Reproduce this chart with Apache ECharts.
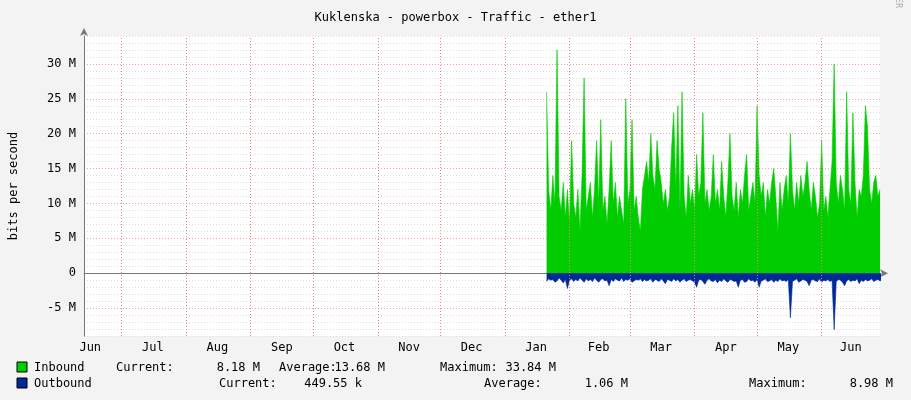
<!DOCTYPE html>
<html><head><meta charset="utf-8">
<script src="https://cdn.jsdelivr.net/npm/echarts@6/dist/echarts.min.js"></script>
<style>html,body{margin:0;padding:0;background:#f3f3f3}#c{width:911px;height:400px}</style>
</head><body><div id="c"></div>
<script>
const startDate = '2024-01-21';
const inbound = [26,12,9,14,10,32,11,9,13,8,12,7,19,10,8,12,6,14,28,9,11,13,8,12,19,10,22,9,11,7,12,19,10,13,8,11,9,7,25,10,12,22,9,11,8,6,12,14,16,13,20,14,12,19,15,13,10,12,9,11,18,23,12,24,9,26,11,8,14,10,12,9,17,11,13,23,10,12,9,11,17,10,12,9,16,11,8,13,20,11,9,13,8,12,10,14,17,9,11,13,10,24,14,11,13,8,12,10,13,15,11,6,13,9,12,14,10,20,12,9,13,10,14,11,13,16,12,9,13,11,8,10,19,9,11,8,12,16,30,13,10,14,12,9,26,12,10,23,13,8,12,11,14,24,21,12,10,13,14,11,12];
const outbound = [1.2,0.8,1.0,0.9,1.3,1.1,0.7,1.0,1.4,0.9,2.2,1.0,0.8,1.2,0.9,1.1,0.7,1.0,1.3,0.8,1.1,0.9,1.2,0.7,1.0,1.3,0.9,0.8,1.1,1.0,1.8,0.9,1.2,0.8,1.0,1.1,0.7,1.2,0.9,1.0,0.8,1.3,1.1,0.9,1.0,0.8,1.2,0.9,1.1,1.0,0.8,1.3,0.9,1.0,1.2,0.8,1.1,1.5,0.9,1.0,1.2,0.8,1.1,0.9,1.3,1.0,0.8,1.2,1.0,0.9,1.1,1.3,2.0,1.0,0.9,1.2,1.6,1.0,0.8,1.1,1.2,0.9,1.4,1.0,1.2,0.8,1.1,1.3,0.9,1.0,1.2,1.1,2.0,1.0,0.9,1.3,1.2,0.8,1.1,1.0,1.3,0.9,2.0,1.1,1.0,0.8,1.2,1.1,0.9,1.3,1.0,1.2,0.8,1.1,1.0,1.2,0.9,6.4,1.2,1.0,0.8,1.3,1.1,0.9,1.0,1.2,1.8,1.0,0.9,1.1,1.2,0.8,1.3,1.0,1.1,0.9,1.2,1.0,8.1,1.2,0.9,1.0,1.3,1.8,1.1,0.9,1.2,1.0,1.1,0.8,1.5,1.0,1.2,0.9,1.1,1.0,0.8,1.2,1.0,0.9,1.1,1.0];
const monthStarts = ['2023-07-01','2023-08-01','2023-09-01','2023-10-01','2023-11-01','2023-12-01','2024-01-01','2024-02-01','2024-03-01','2024-04-01','2024-05-01','2024-06-01'];
const monthLabelDates = ['2023-06-16','2023-07-16','2023-08-16','2023-09-16','2023-10-16','2023-11-16','2023-12-16','2024-01-16','2024-02-15','2024-03-16','2024-04-16','2024-05-16','2024-06-15'];
const monthNames = ['Jun','Jul','Aug','Sep','Oct','Nov','Dec','Jan','Feb','Mar','Apr','May','Jun'];

const ts = d=>new Date(d+'T00:00:00Z').getTime();
const t0 = ts(startDate);
const day = 86400000;
const inData = inbound.map((v,i)=>[t0+i*day, v*1e6]);
const outData = outbound.map((v,i)=>[t0+i*day, -v*1e6]);
const labelTimes = monthLabelDates.map(ts);
const font = 'DejaVu Sans Mono';
const txt = (x,y,s,align)=>({type:'text',x:x,y:y,style:{text:s,font:'12px "DejaVu Sans Mono"',fill:'#000',textAlign:align||'left',textVerticalAlign:'middle'}});

const chart = echarts.init(document.getElementById('c'));
chart.setOption({
  backgroundColor:'#f3f3f3',
  animation:false,
  title:{text:'Kuklenska - powerbox - Traffic - ether1',left:'center',top:7,textStyle:{fontFamily:font,fontSize:12,fontWeight:'normal',color:'#000'}},
  grid:{left:81,right:31,top:36,bottom:64,show:true,backgroundColor:'#fff',borderWidth:0},
  xAxis:{type:'value',min:ts('2023-06-13'),max:ts('2024-06-29'),
    axisLine:{lineStyle:{color:'#777'},symbol:['none','arrow'],symbolSize:[6,8],symbolOffset:[0,8]},
    axisTick:{show:false},splitLine:{show:false},
    axisLabel:{customValues:labelTimes,fontFamily:font,fontSize:12,color:'#000',margin:6,
      formatter:(v)=>{const i=labelTimes.indexOf(v);return i>=0?monthNames[i]:'';}}},
  yAxis:{type:'value',min:-9e6,max:34e6,interval:1e6,
    name:'bits per second',nameLocation:'middle',nameGap:64,nameTextStyle:{fontFamily:font,fontSize:12,color:'#000'},
    axisLine:{show:true,lineStyle:{color:'#777'},symbol:['none','arrow'],symbolSize:[6,8],symbolOffset:[0,8]},
    axisTick:{show:false},
    axisLabel:{fontFamily:font,fontSize:12,color:'#000',margin:8,
      formatter:v=>{if(Math.round(v)%5e6!==0||v>33e6)return '';return v===0?'0':(v/1e6)+' M';}},
    splitLine:{show:true,lineStyle:{type:[1,2],color:['#ddd','#ddd','#ddd','#ddd','#f0a0a0'],width:1}}},
  series:[
    {type:'line',data:inData,showSymbol:false,lineStyle:{width:0.6,color:'#00cc00'},areaStyle:{color:'#00cc00',opacity:1},
     markLine:{silent:true,symbol:'none',label:{show:false},lineStyle:{type:[1,2],color:'#f08080',width:1},
       data:monthStarts.map(d=>({xAxis:ts(d)}))}},
    {type:'line',data:outData,showSymbol:false,lineStyle:{width:0.6,color:'#002a97'},areaStyle:{color:'#002a97',opacity:1}}
  ],
  graphic:[
    {type:'rect',shape:{x:17,y:362,width:10,height:10},style:{fill:'#00cc00',stroke:'#000'}},
    {type:'rect',shape:{x:17,y:378,width:10,height:10},style:{fill:'#002a97',stroke:'#000'}},
    txt(34,368,'Inbound'),txt(116,368,'Current:'),txt(260,368,'8.18 M','right'),
    txt(279,368,'Average:'),txt(385,368,'13.68 M','right'),txt(440,368,'Maximum:'),txt(556,368,'33.84 M','right'),
    txt(34,384,'Outbound'),txt(219,384,'Current:'),txt(362,384,'449.55 k','right'),
    txt(484,384,'Average:'),txt(628,384,'1.06 M','right'),txt(749,384,'Maximum:'),txt(893,384,'8.98 M','right'),
    {type:'text',x:898,y:8,rotation:-Math.PI/2,style:{text:'RRDTOOL / TOBI OETIKER',font:'8px "DejaVu Sans Mono"',fill:'#aaa',textAlign:'right',textVerticalAlign:'middle'}}
  ]
});
</script></body></html>
